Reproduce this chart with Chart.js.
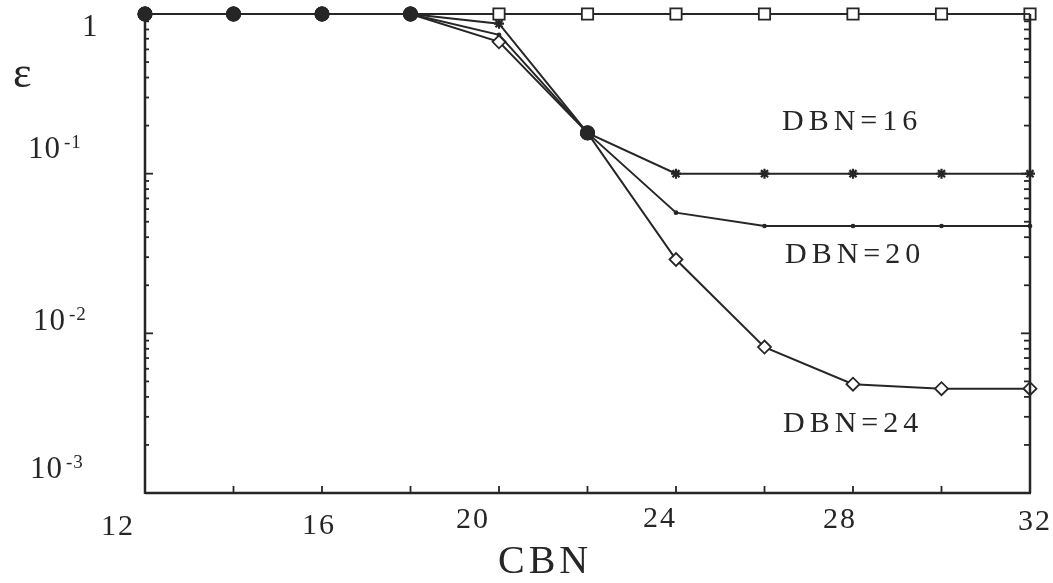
<!DOCTYPE html>
<html>
<head>
<meta charset="utf-8">
<script src="https://cdn.jsdelivr.net/npm/chart.js@4/dist/chart.umd.min.js"></script>
<style>
  html, body { margin: 0; padding: 0; background: #fff; }
  #wrap { width: 1053px; height: 583px; }
</style>
</head>
<body>
<div id="wrap"><canvas id="chart" width="1053" height="583"></canvas></div>
<script>
// values (CBN on x, error rate on a log y axis)
const cbn = [12, 14, 16, 18, 20, 22, 24, 26, 28, 30, 32];
const epsSquares = [1, 1, 1, 1, 1, 1, 1, 1, 1, 1, 1];
const epsDbn16 = [1, 1, 1, 1, 0.87, 0.18, 0.1, 0.1, 0.1, 0.1, 0.1];
const epsDbn20 = [1, 1, 1, 1, 0.74, 0.18, 0.057, 0.047, 0.047, 0.047, 0.047];
const epsDbn24 = [1, 1, 1, 1, 0.67, 0.18, 0.029, 0.0082, 0.0048, 0.0045, 0.0045];

const xTickValues = [12, 14, 16, 18, 20, 22, 24, 26, 28, 30, 32];
const xLabelValues = [12, 16, 20, 24, 28, 32];
const yLabelExps = [0, -1, -2, -3];
const seriesNames = ['', 'DBN=16', 'DBN=20', 'DBN=24'];

const ink = '#262626';
const serif = '"Liberation Serif", "DejaVu Serif", serif';

// every 1..9 multiple per decade, 1e-3 .. 1
const yTickValues = [];
for (let e = -3; e <= 0; e++) {
    for (let m = 1; m <= 9; m++) {
        if (e === 0 && m > 1) break;
        yTickValues.push(Number((m * Math.pow(10, e)).toPrecision(3)));
    }
}

// points where all curves sit on top of each other came out as solid blobs in the print
function isShared(ctx) {
    if (ctx.dataIndex === undefined) return false;
    const i = ctx.dataIndex;
    const v = ctx.dataset.data[i].y;
    return ctx.chart.data.datasets.some(d => d !== ctx.dataset && d.data[i].y === v);
}

function series(name, values, style, radius, fill, markWidth) {
    return {
        label: name,
        data: cbn.map((c, i) => ({x: c, y: values[i]})),
        borderColor: ink,
        borderWidth: 2,
        clip: false,
        pointStyle: ctx => isShared(ctx) ? 'circle' : style,
        pointRadius: ctx => isShared(ctx) ? 6.5 : radius,
        pointBackgroundColor: ctx => isShared(ctx) ? ink : fill,
        pointBorderColor: ink,
        pointBorderWidth: markWidth
    };
}

// tick marks point inwards, labels sit where the scan put them
const paperPlugin = {
    id: 'paper',
    afterDraw(chart) {
        const {ctx, chartArea: a, scales: {x, y}} = chart;
        ctx.save();
        ctx.strokeStyle = ink;
        ctx.lineCap = 'butt';

        const line = (x1, y1, x2, y2) => {
            ctx.beginPath();
            ctx.moveTo(x1, y1);
            ctx.lineTo(x2, y2);
            ctx.stroke();
        };

        // frame: left, bottom, right
        ctx.lineWidth = 2.5;
        line(a.left, a.top, a.left, a.bottom + 1);
        line(a.left, a.bottom, a.right + 1, a.bottom);
        line(a.right, a.top, a.right, a.bottom);

        ctx.lineWidth = 1.8;
        for (let t of y.ticks) {
            const py = y.getPixelForValue(t.value);
            const lg = Math.log10(t.value);
            const major = Math.abs(lg - Math.round(lg)) < 1e-6;
            line(a.left, py, a.left + (major ? 8 : 4), py);
            line(a.right, py, a.right - (major ? 9 : 6), py);
        }
        for (let t of x.ticks) {
            if (t.value <= x.min || t.value >= x.max) continue;
            const px = x.getPixelForValue(t.value);
            line(px, a.bottom, px, a.bottom - 7);
        }

        ctx.fillStyle = ink;
        ctx.textBaseline = 'alphabetic';

        // x tick labels
        const xShift = [-28, -4, -27, -17, -14, 4];
        const xBase = [535, 534, 528, 527, 528, 530];
        ctx.font = '30px ' + serif;
        ctx.textAlign = 'center';
        ctx.letterSpacing = '2px';
        xLabelValues.forEach((v, i) => {
            ctx.fillText(String(v), x.getPixelForValue(v) + xShift[i] + 1, xBase[i]);
        });

        // y tick labels: 1, 10^-1, 10^-2, 10^-3
        const yLeft = [82, 28, 33, 30];
        const yShift = [22, -16, -3, -15];
        ctx.textAlign = 'left';
        ctx.letterSpacing = '1px';
        yLabelExps.forEach((e, i) => {
            const base = y.getPixelForValue(Math.pow(10, e)) + yShift[i];
            ctx.font = '31px ' + serif;
            if (e === 0) {
                ctx.fillText('1', yLeft[i], base);
                return;
            }
            ctx.fillText('10', yLeft[i], base);
            const w = ctx.measureText('10').width;
            ctx.font = '19px ' + serif;
            ctx.fillText(String(e), yLeft[i] + w + 3, base - 10);
        });

        // axis titles
        ctx.letterSpacing = '0px';
        ctx.font = '44px ' + serif;
        ctx.fillText('ε', 13, 87);
        ctx.font = '40px ' + serif;
        ctx.letterSpacing = '4px';
        ctx.fillText('CBN', 498, 573);

        // curve labels
        ctx.font = '30px ' + serif;
        ctx.letterSpacing = '5px';
        ctx.fillText(seriesNames[1], 782, 130);
        ctx.fillText(seriesNames[2], 785, 263);
        ctx.fillText(seriesNames[3], 783, 432);

        ctx.restore();
    }
};

new Chart(document.getElementById('chart'), {
    type: 'line',
    data: {
        datasets: [
            series(seriesNames[0], epsSquares, 'rect', 8, '#fff', 1.8),
            series(seriesNames[1], epsDbn16, 'star', 5, ink, 2.2),
            series(seriesNames[2], epsDbn20, 'circle', 1.6, ink, 1.5),
            series(seriesNames[3], epsDbn24, 'rectRot', 6.5, '#fff', 1.8)
        ]
    },
    options: {
        responsive: false,
        animation: false,
        layout: {padding: {top: 14, right: 23, left: 0, bottom: 0}},
        plugins: {
            legend: {display: false},
            tooltip: {enabled: false}
        },
        elements: {line: {tension: 0}},
        scales: {
            x: {
                type: 'linear',
                min: 12,
                max: 32,
                ticks: {display: false},
                grid: {display: false},
                border: {display: false},
                afterBuildTicks: s => { s.ticks = xTickValues.map(v => ({value: v})); },
                afterFit: s => { s.height = 90; }
            },
            y: {
                type: 'logarithmic',
                min: 0.001,
                max: 1,
                ticks: {display: false},
                grid: {display: false},
                border: {display: false},
                afterBuildTicks: s => { s.ticks = yTickValues.map(v => ({value: v})); },
                afterFit: s => { s.width = 145; }
            }
        }
    },
    plugins: [paperPlugin]
});
</script>
</body>
</html>
